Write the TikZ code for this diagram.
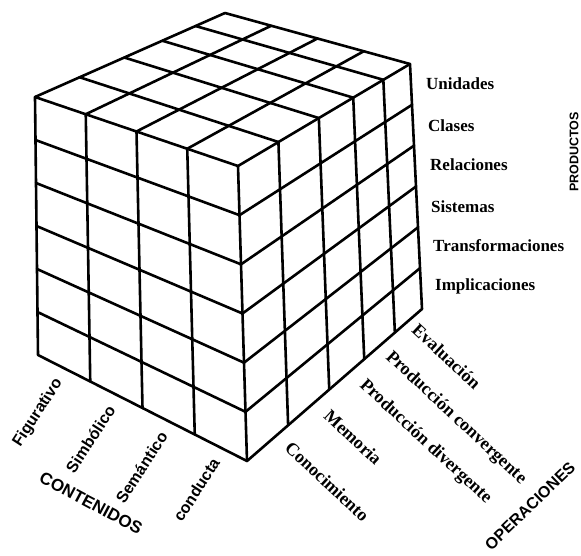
\documentclass[tikz,border=0pt]{standalone}
\usepackage{fontspec}
\setmainfont{Liberation Serif}
\setsansfont{Liberation Sans}
\usetikzlibrary{calc}

\begin{document}
\begin{tikzpicture}[x=1pt,y=-1pt,
    arista/.style={line width=2.6pt,line join=round,line cap=round},
    prod/.style={anchor=west,inner sep=0pt,font=\fontsize{17}{17}\selectfont\bfseries},
    oper/.style={anchor=west,inner sep=0pt,rotate=-43,font=\fontsize{18}{18}\selectfont\bfseries},
    cont/.style={anchor=east,inner sep=0pt,rotate=57,font=\fontsize{16}{16}\selectfont\sffamily\bfseries},
    eje/.style={inner sep=0pt,font=\fontsize{17}{17}\selectfont\sffamily\bfseries}]
    \useasboundingbox (0,0) rectangle (581,556);

    % esquinas del cubo
    \coordinate (fsi) at (35,97);
    \coordinate (fsd) at (238,166);
    \coordinate (fii) at (38,355);
    \coordinate (fid) at (247,461);
    \coordinate (tsf) at (225,13);
    \coordinate (dsf) at (410,64);
    \coordinate (dif) at (422,309);

    % contorno
    \draw [arista] (fii) -- (fsi) -- (tsf) -- (dsf) -- (dif) -- (fid) -- cycle;
    \draw [arista] (fsi) -- (fsd) -- (fid);
    \draw [arista] (fsd) -- (dsf);

    % contenidos: columnas del frente y de la cara superior
    \draw [arista] ($(tsf)!.25!(dsf)$) -- ($(fsi)!.25!(fsd)$) -- ($(fii)!.25!(fid)$);
    \draw [arista] ($(tsf)!.5!(dsf)$) -- ($(fsi)!.5!(fsd)$) -- ($(fii)!.5!(fid)$);
    \draw [arista] ($(tsf)!.75!(dsf)$) -- ($(fsi)!.75!(fsd)$) -- ($(fii)!.75!(fid)$);

    % operaciones: profundidad
    \draw [arista] ($(fsi)!.235!(tsf)$) -- ($(fsd)!.235!(dsf)$) -- ($(fid)!.235!(dif)$);
    \draw [arista] ($(fsi)!.47!(tsf)$) -- ($(fsd)!.47!(dsf)$) -- ($(fid)!.47!(dif)$);
    \draw [arista] ($(fsi)!.67!(tsf)$) -- ($(fsd)!.67!(dsf)$) -- ($(fid)!.67!(dif)$);
    \draw [arista] ($(fsi)!.845!(tsf)$) -- ($(fsd)!.845!(dsf)$) -- ($(fid)!.845!(dif)$);

    % productos: filas
    \draw [arista] ($(fsi)!.1667!(fii)$) -- ($(fsd)!.1667!(fid)$) -- ($(dsf)!.1667!(dif)$);
    \draw [arista] ($(fsi)!.3333!(fii)$) -- ($(fsd)!.3333!(fid)$) -- ($(dsf)!.3333!(dif)$);
    \draw [arista] ($(fsi)!.5!(fii)$) -- ($(fsd)!.5!(fid)$) -- ($(dsf)!.5!(dif)$);
    \draw [arista] ($(fsi)!.6667!(fii)$) -- ($(fsd)!.6667!(fid)$) -- ($(dsf)!.6667!(dif)$);
    \draw [arista] ($(fsi)!.8333!(fii)$) -- ($(fsd)!.8333!(fid)$) -- ($(dsf)!.8333!(dif)$);

    % productos
    \node (unidades) [prod] at ($(dsf)!.0833!(dif)+(15,-1)$) {Unidades};
    \node (clases) [prod] at ($(dsf)!.25!(dif)+(15,0)$) {Clases};
    \node (relaciones) [prod] at ($(dsf)!.4167!(dif)+(15,-1)$) {Relaciones};
    \node (sistemas) [prod] at ($(dsf)!.5833!(dif)+(14,0)$) {Sistemas};
    \node (transf) [prod] at ($(dsf)!.75!(dif)+(14,-2)$) {Transformaciones};
    \node (implic) [prod] at ($(dsf)!.9167!(dif)+(14,-2)$) {Implicaciones};
    \node (productos) [eje,rotate=90,font=\fontsize{12.5}{12.5}\selectfont\sffamily\bfseries] at (574,152) {PRODUCTOS};

    % contenidos
    \node (figurativo) [cont] at ($(fii)!.125!(fid)+(-5,12)$) {Figurativo};
    \node (simbolico) [cont] at ($(fii)!.375!(fid)+(-5,12)$) {Simbólico};
    \node (semantico) [cont] at ($(fii)!.625!(fid)+(-5,12)$) {Semántico};
    \node (conducta) [cont] at ($(fii)!.875!(fid)+(-5,12)$) {conducta};
    \node (contenidos) [eje,rotate=-28] at (91,503) {CONTENIDOS};

    % operaciones
    \node (conocim) [oper] at (288,445) {Conocimiento};
    \node (memoria) [oper] at (327,413) {Memoria};
    \node (proddiv) [oper] at (362,383) {Producción divergente};
    \node (prodconv) [oper] at (388,355) {Producción convergente};
    \node (evaluacion) [oper] at (415,327) {Evaluación};
    \node (operaciones) [eje,rotate=44,font=\fontsize{16}{16}\selectfont\sffamily\bfseries] at (530,506) {OPERACIONES};
\end{tikzpicture}
\end{document}
